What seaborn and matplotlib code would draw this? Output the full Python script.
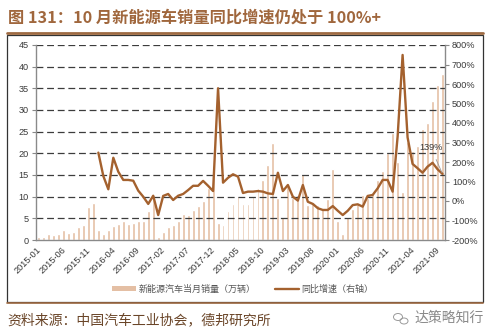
import matplotlib
matplotlib.use("Agg")
import matplotlib.pyplot as plt
from matplotlib.patches import Patch, Rectangle, Ellipse
from matplotlib.lines import Line2D
import numpy as np
import pandas as pd
import seaborn as sns

# Monthly NEV sales (10k units), 2015-01 .. 2021-10
sales_2015 = [0.6, 0.6, 1.5, 1.1, 1.5, 2.2, 1.7, 1.9, 2.9, 3.4, 7.7, 8.5]
sales_2016 = [2.3, 1.5, 2.3, 3.2, 3.6, 4.4, 3.7, 3.9, 4.4, 4.5, 6.6, 10.4]
sales_2017 = [0.6, 1.8, 3.1, 3.5, 4.5, 6.0, 5.7, 6.9, 7.9, 9.1, 12.0, 16.9]
sales_2018 = [4.0, 3.5, 6.8, 8.2, 10.2, 8.4, 8.4, 10.1, 12.1, 13.8, 17.3, 22.5]
sales_2019 = [9.6, 5.3, 12.6, 9.7, 10.4, 15.2, 8.0, 8.5, 8.0, 7.5, 9.5, 16.3]
sales_2020 = [4.4, 1.3, 5.3, 7.2, 8.2, 10.4, 9.8, 10.9, 13.8, 16.0, 20.0, 24.8]
sales_2021 = [17.9, 11.0, 22.6, 20.6, 21.7, 25.6, 27.1, 32.1, 35.7, 38.3]

# Year-on-year growth (%), available from 2016-01
yoy_2016 = [248, 128, 60, 222, 150, 108, 108, 104, 53, 22, -15, 27]
yoy_2017 = [-72, 26, 36, 5, 27, 36, 56, 78, 78, 103, 78, 51]
yoy_2018 = [578, 94, 119, 137, 125, 41, 48, 48, 51, 48, 39, 36]
yoy_2019 = [145, 51, 82, 22, 2, 82, -4, -15, -37, -46, -46, -26]
yoy_2020 = [-50, -72, -50, -21, -17, -29, 26, 31, 65, 108, 108, 48]
yoy_2021 = [330, 749, 326, 190, 168, 145, 176, 196, 163, 139]

years = [2015, 2016, 2017, 2018, 2019, 2020, 2021]
month_labels = [f"{y}-{m:02d}" for y in years for m in range(1, 13)][:82]

sales = sales_2015 + sales_2016 + sales_2017 + sales_2018 + sales_2019 + sales_2020 + sales_2021
yoy = yoy_2016 + yoy_2017 + yoy_2018 + yoy_2019 + yoy_2020 + yoy_2021

df_bar = pd.DataFrame({"month": month_labels, "sales": sales})
df_line = pd.DataFrame({"pos": np.arange(12, 12 + len(yoy)), "yoy": yoy})

tick_every = 5
left_ticks = list(range(0, 50, 5))
right_ticks = list(range(-200, 900, 100))

bar_color = "#E4BFA4"
line_color = "#A4612E"
brown = "#9E6A42"
text_gray = "#3a3a3a"

sns.set_theme(style="white")
plt.rcParams["font.family"] = ["Liberation Sans", "Noto Sans CJK SC", "DejaVu Sans"]

W, H = 490, 336
fig = plt.figure(figsize=(W / 100, H / 100), dpi=100)

ax = fig.add_axes([36 / W, 1 - 240 / H, 409 / W, 195 / H])
sns.barplot(data=df_bar, x="month", y="sales", color=bar_color, width=0.58,
            errorbar=None, ax=ax, saturation=1, zorder=1)
ax.set_xlim(-0.5, len(sales) - 0.5)
ax.set_ylim(0, 45)
ax.set_yticks(left_ticks)
ax.set_yticklabels([str(v) for v in left_ticks])
ax.set_xlabel("")
ax.set_ylabel("")

# dashed horizontal guides drawn over the bars
for v in left_ticks[1:]:
    ax.axhline(v, color="#3c3c3c", lw=0.9, ls=(0, (5.5, 3)), zorder=2)

tick_pos = np.arange(0, len(sales), tick_every)
ax.set_xticks(tick_pos - 0.5)
ax.set_xticklabels([month_labels[i] for i in tick_pos], rotation=45,
                   ha="right", rotation_mode="anchor", fontsize=6.6, color=text_gray)
ax.tick_params(axis="x", length=2.5, width=0.8, color="#888888", pad=1.5)
ax.tick_params(axis="y", length=3, width=0.8, color="#888888", labelsize=6.6,
               labelcolor=text_gray, pad=2, left=True)

for side in ["left", "bottom"]:
    ax.spines[side].set_color("#8a8a8a")
    ax.spines[side].set_linewidth(1.0)
ax.spines["top"].set_visible(False)
ax.spines["right"].set_visible(False)

ax2 = ax.twinx()
sns.lineplot(data=df_line, x="pos", y="yoy", color=line_color, linewidth=1.7, ax=ax2)
ax2.set_ylim(-200, 800)
ax2.set_yticks(right_ticks)
ax2.set_yticklabels([f"{v}%" for v in right_ticks])
ax2.set_xlim(-0.5, len(sales) - 0.5)
ax2.set_ylabel("")
ax2.tick_params(axis="y", length=3, width=0.8, color="#888888", labelsize=6.6,
                labelcolor=text_gray, pad=2, right=True)
for side in ["top", "left", "bottom"]:
    ax2.spines[side].set_visible(False)
ax2.spines["right"].set_color("#8a8a8a")
ax2.spines["right"].set_linewidth(1.0)

last = df_line.iloc[-1]
ax2.annotate(f"{int(last['yoy'])}%", xy=(last["pos"], last["yoy"]),
             xytext=(78.7, 272), ha="center", va="center", fontsize=6.6,
             color=text_gray,
             arrowprops=dict(arrowstyle="-", color="#9a9a9a", lw=0.6,
                             shrinkA=3, shrinkB=1))

# legend
handles = [Patch(facecolor=bar_color, edgecolor="none"),
           Line2D([0], [0], color=line_color, lw=1.7)]
fig.legend(handles, ["新能源汽车当月销量（万辆）", "同比增速（右轴）"],
           loc="center", bbox_to_anchor=(243 / W, 1 - 289 / H), ncol=2,
           frameon=False, handlelength=2.6, handleheight=0.6,
           columnspacing=2.2, handletextpad=0.3,
           prop={"family": ["Noto Sans CJK SC"], "size": 6.5})
for t in fig.legends[0].get_texts():
    t.set_color("#555555")

# title, frame and source
fig.text(8 / W, 1 - 18 / H, "图 131：10 月新能源车销量同比增速仍处于 100%+",
         fontsize=11.7, fontweight="bold", color="#A0673D", va="center", ha="left",
         family=["Noto Sans CJK SC"])
fig.add_artist(Line2D([7 / W, 483 / W], [1 - 33 / H, 1 - 33 / H], color=brown, lw=2.0))
fig.add_artist(Rectangle((7 / W, 1 - 301.5 / H), 476 / W, 267 / H, fill=False,
                         edgecolor="#333333", lw=0.9))
fig.add_artist(Line2D([7 / W, 483 / W], [1 - 303 / H, 1 - 303 / H], color=brown, lw=1.2))

fig.text(7 / W, 1 - 320 / H, "资料来源：中国汽车工业协会，德邦研究所",
         fontsize=10, color="#6a4528", va="center", ha="left",
         family=["Noto Sans CJK SC"])

# small chat-bubble mark next to the account name
fig.add_artist(Ellipse((398 / W, 1 - 317 / H), 9 / W, 7 / H, fill=False,
                       edgecolor="#9a9a9a", lw=0.7))
fig.add_artist(Ellipse((404 / W, 1 - 321 / H), 8 / W, 6 / H, fill=False,
                       edgecolor="#9a9a9a", lw=0.7))
fig.text(414 / W, 1 - 318 / H, "达策略知行", fontsize=10, color="#8a8a8a",
         va="center", ha="left", family=["Noto Sans CJK SC"])

fig.savefig("out.png", dpi=100, facecolor="white")
